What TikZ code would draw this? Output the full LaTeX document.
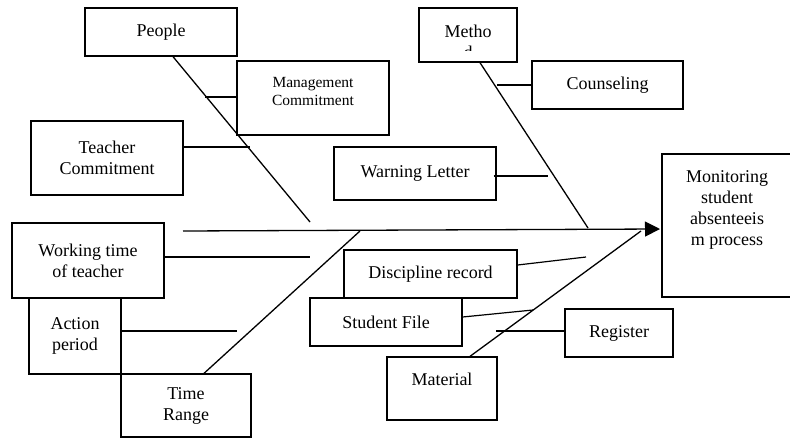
\documentclass[tikz,border=0pt]{standalone}
\usepackage{fontspec}
\setmainfont{Liberation Serif}
\usetikzlibrary{arrows.meta}

\begin{document}
\begin{tikzpicture}[x=1pt, y=-1pt,
  box/.style={draw, line width=1.3pt, rectangle, inner sep=2pt, align=center, font=\fontsize{18}{21}\selectfont},
  bone/.style={line width=1.3pt},
  twig/.style={line width=1.2pt}]
  \useasboundingbox (0,0) rectangle (790,439);

  % cause boxes
  \node[box, minimum width=152pt, minimum height=48pt] (people) at (161,32) {People};
  \node[box, inner sep=0pt, font=\fontsize{15.5}{18.5}\selectfont] (mgmt) at (313,98) {\parbox[c][74pt][t]{152pt}{\centering\vspace{16pt}Management\\Commitment}};
  \node[box, minimum width=152pt, minimum height=74pt] (teacher) at (107,158) {Teacher\\Commitment};
  \node[box, minimum width=98pt, minimum height=54pt] (method) at (468,35) {};
  \begin{scope}
    \clip (419,8) rectangle (517,50.5);
    \node[font=\fontsize{18}{21}\selectfont, align=center] (methodtext) at (468,41.5) {Metho\\d};
  \end{scope}
  \node[box, minimum width=151pt, minimum height=48pt] (counsel) at (607.5,85) {Counseling};
  \node[box, minimum width=162pt, minimum height=53pt] (warning) at (415,173.5) {Warning Letter};
  \node[box, minimum width=152pt, minimum height=75pt] (working) at (88,260.5) {Working time\\of teacher};
  \node[box, minimum width=92pt, minimum height=76pt] (action) at (75,336) {Action\\period};
  \node[box, minimum width=130pt, minimum height=63pt] (timer) at (186,405.5) {Time\\Range};
  \node[box, minimum width=173pt, minimum height=48pt] (disc) at (430.5,274) {Discipline record};
  \node[box, minimum width=152pt, minimum height=48pt] (student) at (386,322) {Student File};
  \node[box, minimum width=108pt, minimum height=48pt] (register) at (619,333) {Register};
  \node[box, inner sep=0pt] (material) at (442,388.5) {\parbox[c][63pt][t]{110pt}{\centering\vspace{16pt}Material}};

  % effect
  \node[box, inner sep=0pt] (mon) at (727,225.5) {\parbox[c][143pt][t]{130pt}{\centering\vspace{17pt}Monitoring\\student\\absenteeis\\m process}};

  % spine and bones
  \coordinate (tail) at (183,231);
  \coordinate (head) at (660,229);
  \coordinate (pb) at (310,222);
  \coordinate (mb) at (588,228);
  \coordinate (tb) at (360,231);
  \coordinate (mab) at (641,231);
  \draw[bone, -{Triangle[length=15pt, width=15pt]}] (tail) -- (head);
  \draw[bone] ([xshift=12pt]people.south) -- (pb);
  \draw[bone] ([xshift=12pt]method.south) -- (mb);
  \draw[bone] ([xshift=18pt]timer.north) -- (tb);
  \draw[bone] ([xshift=28pt]material.north) -- (mab);

  % branches
  \coordinate (mc) at (205,97);
  \coordinate (tc) at (250,147);
  \coordinate (cl) at (497,85);
  \coordinate (wl) at (548,176);
  \coordinate (wt) at (310,257);
  \coordinate (ap) at (237,331);
  \coordinate (dr) at (586,257);
  \coordinate (sf) at (533,310);
  \coordinate (rg) at (496,331);
  \draw[twig] ([yshift=1pt]mgmt.west) -- (mc);
  \draw[twig] ([yshift=11pt]teacher.east) -- (tc);
  \draw[twig] (counsel.west) -- (cl);
  \draw[twig] ([xshift=-3pt, yshift=-2.5pt]warning.east) -- (wl);
  \draw[twig] ([yshift=3.5pt]working.east) -- (wt);
  \draw[twig] ([yshift=5pt]action.east) -- (ap);
  \draw[twig] ([yshift=9pt]disc.east) -- (dr);
  \draw[twig] ([yshift=5pt]student.east) -- (sf);
  \draw[twig] ([yshift=2pt]register.west) -- (rg);
\end{tikzpicture}
\end{document}
